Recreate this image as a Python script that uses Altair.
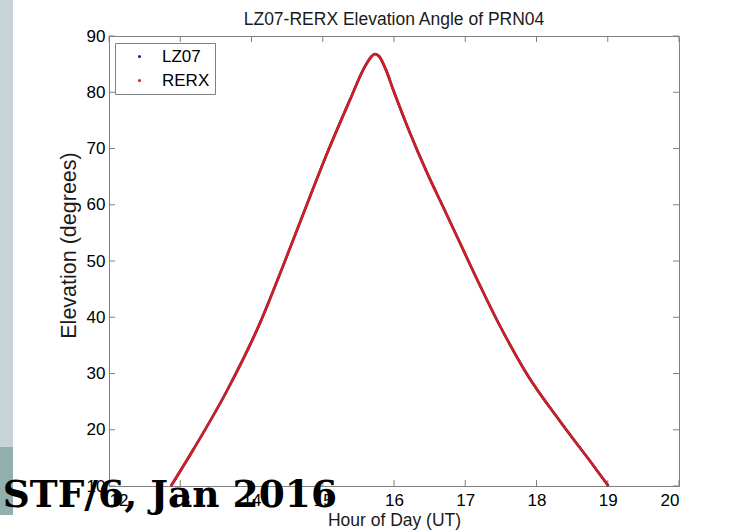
import altair as alt
import pandas as pd

# Elevation of PRN04 seen from LZ07 and RERX (hour of day UT, degrees)
hours = [12.87, 13.18, 13.65, 14.12, 14.43, 14.73, 15.06, 15.38, 15.58, 15.68,
         15.73, 15.79, 15.88, 15.99, 16.22, 16.46, 16.69, 16.93, 17.07, 17.49,
         17.86, 18.33, 18.80, 19.01]
elev = [10.0, 16.4, 26.8, 39.0, 48.7, 58.5, 69.1, 78.6, 84.3, 86.3,
        86.8, 86.4, 84.2, 80.4, 72.9, 65.8, 59.6, 53.1, 49.3, 38.4,
        30.0, 21.5, 13.6, 10.0]
stations = ["LZ07", "RERX"]
station_colors = ["#1c1c8c", "#d01f1f"]

x_ticks = [12, 13, 14, 15, 16, 17, 18, 19, 20]
y_ticks = [10, 20, 30, 40, 50, 60, 70, 80, 90]

W, H = 570, 450
AXIS_GRAY = "#808080"
FONT = "Liberation Sans"

rows = []
for s in stations:
    for h, e in zip(hours, elev):
        rows.append({"station": s, "hour": h, "elev": e})
df = pd.DataFrame(rows)

x_scale = alt.Scale(domain=[12, 20], nice=False)
y_scale = alt.Scale(domain=[10, 90], nice=False)

lines = alt.Chart(df).mark_line(strokeWidth=2.6, interpolate="monotone").encode(
    x=alt.X("hour:Q", scale=x_scale,
            axis=alt.Axis(values=x_ticks, title="Hour of Day (UT)", format="d")),
    y=alt.Y("elev:Q", scale=y_scale,
            axis=alt.Axis(values=y_ticks, title="Elevation (degrees)", format="d",
                          titleFontSize=21.5, titleY=209)),
    color=alt.Color(
        "station:N",
        scale=alt.Scale(domain=stations, range=station_colors),
        legend=alt.Legend(
            title=None, orient="none", legendX=6, legendY=7,
            symbolType="circle", symbolSize=2, symbolStrokeWidth=1.6,
            symbolOffset=11, labelOffset=14, padding=5, rowPadding=6,
            labelFont=FONT, labelFontSize=17, labelColor="#000000",
            strokeColor=AXIS_GRAY, fillColor="#ffffff",
        ),
    ),
    detail="station:N",
)

# inward tick marks on all four sides of the box
xt = pd.DataFrame({"t": x_ticks})
yt = pd.DataFrame({"t": y_ticks})
tick_style = dict(color=AXIS_GRAY, strokeWidth=1)
xb = alt.Chart(xt).mark_rule(**tick_style).encode(
    x=alt.X("t:Q", scale=x_scale), y=alt.value(H), y2=alt.value(H - 6))
xtop = alt.Chart(xt).mark_rule(**tick_style).encode(
    x=alt.X("t:Q", scale=x_scale), y=alt.value(0), y2=alt.value(6))
yl = alt.Chart(yt).mark_rule(**tick_style).encode(
    y=alt.Y("t:Q", scale=y_scale), x=alt.value(0), x2=alt.value(6))
yr = alt.Chart(yt).mark_rule(**tick_style).encode(
    y=alt.Y("t:Q", scale=y_scale), x=alt.value(W), x2=alt.value(W - 6))

one = pd.DataFrame({"k": [0]})

# plot title, centred over the box
title = alt.Chart(one).mark_text(
    text="LZ07-RERX Elevation Angle of PRN04", font=FONT, fontSize=17.5,
    align="center", baseline="alphabetic", color="#1a1a1a",
).encode(x=alt.value(W / 2), y=alt.value(-11))

# slide decoration: side band and footer caption
band_top = alt.Chart(one).mark_rect(color="#c7d3d7").encode(
    x=alt.value(-109), x2=alt.value(-96), y=alt.value(-36), y2=alt.value(411))
band_low = alt.Chart(one).mark_rect(color="#8fb0ad").encode(
    x=alt.value(-109), x2=alt.value(-96), y=alt.value(411), y2=alt.value(479))
caption = alt.Chart(one).mark_text(
    text="STF/6, Jan 2016", font="DejaVu Serif", fontWeight="bold",
    fontSize=37.5, align="right", baseline="alphabetic", color="#000000",
).encode(x=alt.value(228), y=alt.value(471))

chart = alt.layer(
    band_top, band_low, xb, xtop, yl, yr, lines, title, caption
).properties(
    width=W, height=H,
    autosize=alt.AutoSizeParams(type="none"),
    padding={"left": 109, "top": 36, "right": 55, "bottom": 45},
).configure_view(
    stroke=AXIS_GRAY, strokeWidth=1
).configure_axis(
    labelFont=FONT, labelFontSize=17, labelColor="#000000",
    titleFont=FONT, titleFontSize=17.5, titleFontWeight="normal", titleColor="#1a1a1a",
    domainColor=AXIS_GRAY, tickSize=0, grid=False,
).configure_axisX(
    labelPadding=6, titlePadding=3,
).configure_axisY(
    labelPadding=4, titlePadding=6,
)

chart.save("out.html", embed_options={"renderer": "svg", "actions": False})
